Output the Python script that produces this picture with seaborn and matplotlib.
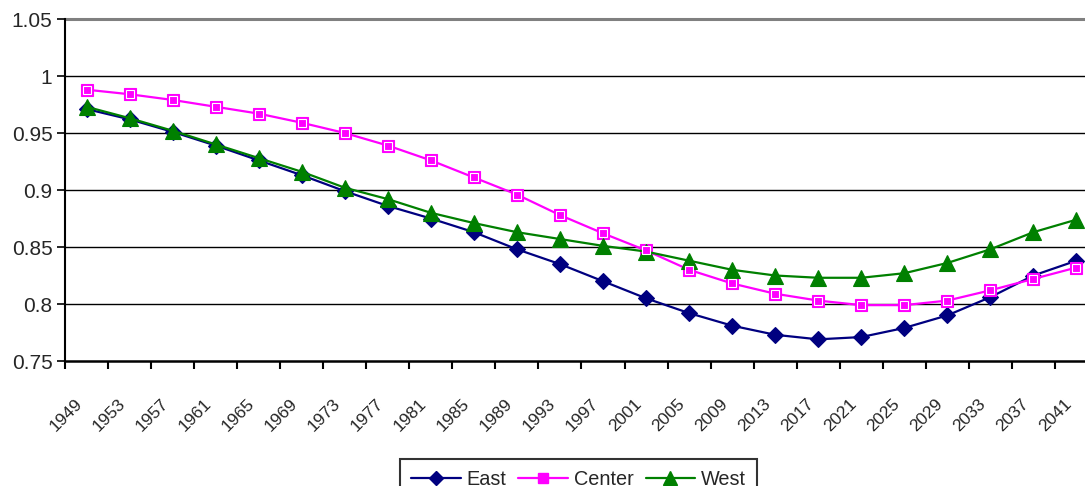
import matplotlib
matplotlib.use("Agg")
import matplotlib.pyplot as plt
import matplotlib.transforms as mtransforms
import numpy as np
import pandas as pd
import seaborn as sns

# Four-year steps from 1949 to 2041
years = [str(y) for y in range(1949, 2042, 4)]

east = [0.971, 0.962, 0.951, 0.939, 0.926, 0.913, 0.899, 0.886, 0.875, 0.863,
        0.848, 0.835, 0.820, 0.805, 0.792, 0.781, 0.773, 0.769, 0.771, 0.779,
        0.790, 0.806, 0.825, 0.838]
center = [0.988, 0.984, 0.979, 0.973, 0.967, 0.959, 0.950, 0.939, 0.926, 0.911,
          0.896, 0.878, 0.862, 0.847, 0.830, 0.818, 0.809, 0.803, 0.799, 0.799,
          0.803, 0.812, 0.822, 0.832]
west = [0.973, 0.963, 0.952, 0.940, 0.928, 0.916, 0.902, 0.892, 0.880, 0.871,
        0.863, 0.857, 0.851, 0.846, 0.838, 0.830, 0.825, 0.823, 0.823, 0.827,
        0.836, 0.848, 0.863, 0.874]

y_ticks = [0.75, 0.8, 0.85, 0.9, 0.95, 1.0, 1.05]
y_tick_labels = ["0.75", "0.8", "0.85", "0.9", "0.95", "1", "1.05"]

series = {"East": east, "Center": center, "West": west}
styles = {
    "East": dict(color="#000080", marker="D", ms=8.5),
    "Center": dict(color="#FF00FF", marker="s", ms=9),
    "West": dict(color="#008000", marker="^", ms=11.5),
}

df = pd.DataFrame({
    "pos": np.tile(np.arange(len(years)), len(series)),
    "value": east + center + west,
    "region": np.repeat(list(series.keys()), len(years)),
})

sns.set_theme(style="white")
plt.rcParams["font.family"] = ["Liberation Sans", "DejaVu Sans"]

W, H = 1085, 486
fig = plt.figure(figsize=(W / 100, H / 100), dpi=100)
n = len(years)
step = 43.04
left_px, top_px, bottom_px = 65, 19, 361
ax = fig.add_axes([left_px / W, (H - bottom_px) / H,
                   n * step / W, (bottom_px - top_px) / H])

for name in series:
    st = styles[name]
    sub = df[df["region"] == name]
    sns.lineplot(data=sub, x="pos", y="value", ax=ax, color=st["color"],
                 lw=1.6, marker=st["marker"], markersize=st["ms"],
                 markerfacecolor=st["color"], markeredgecolor=st["color"],
                 markeredgewidth=0.8, label=name, zorder=3)

# white inner rim on the square markers
sub = df[df["region"] == "Center"]
ax.plot(sub["pos"], sub["value"], ls="none", marker="s", ms=6.2,
        mfc="#FF00FF", mec="white", mew=0.8, zorder=4)

ax.set_xlim(-0.5, n - 0.5)
ax.set_ylim(0.75, 1.05)

# horizontal gridlines
for v in y_ticks[1:-1]:
    ax.axhline(v, color="black", lw=1.0, zorder=1)
ax.axhline(1.05, color="#808080", lw=2.2, zorder=1, clip_on=False)

ax.set_yticks(y_ticks)
ax.set_yticklabels(y_tick_labels, fontsize=15)
ax.tick_params(axis="y", direction="out", length=6, width=1.2, color="black",
               pad=3, left=True)

# tick marks between categories, labels at category centres
ax.set_xticks(np.arange(n + 1) - 0.5)
ax.set_xticklabels([])
ax.tick_params(axis="x", which="major", direction="out", length=6, width=1.5,
               color="black", bottom=True)
ax.set_xticks(np.arange(n), minor=True)
ax.set_xticklabels(years, minor=True, fontsize=12.5, rotation=45,
                   ha="right", va="center", rotation_mode="anchor")
ax.tick_params(axis="x", which="minor", length=0, pad=29)
offset = mtransforms.ScaledTranslation(-7 / 100, 0, fig.dpi_scale_trans)
for lab in ax.get_xticklabels(minor=True):
    lab.set_transform(lab.get_transform() + offset)

ax.set_xlabel("")
ax.set_ylabel("")
for side in ["top", "right"]:
    ax.spines[side].set_visible(False)
ax.spines["left"].set_color("black")
ax.spines["left"].set_linewidth(1.5)
ax.spines["bottom"].set_color("black")
ax.spines["bottom"].set_linewidth(1.8)

ax.get_legend().remove()
handles = [
    plt.Line2D([], [], color=styles[k]["color"], lw=1.6, marker=styles[k]["marker"],
               ms=styles[k]["ms"] * 0.85, mfc=styles[k]["color"], mec=styles[k]["color"])
    for k in series
]
leg = fig.legend(handles, list(series.keys()), loc="upper center",
                 bbox_to_anchor=(578.5 / W, (H - 459) / H), ncol=3,
                 fontsize=14.3, frameon=True, fancybox=False, handlelength=2.5,
                 handletextpad=0.3, columnspacing=0.6, borderpad=0.55,
                 borderaxespad=0)
leg.get_frame().set_edgecolor("black")
leg.get_frame().set_linewidth(1.5)

fig.savefig("out.png", dpi=100)
